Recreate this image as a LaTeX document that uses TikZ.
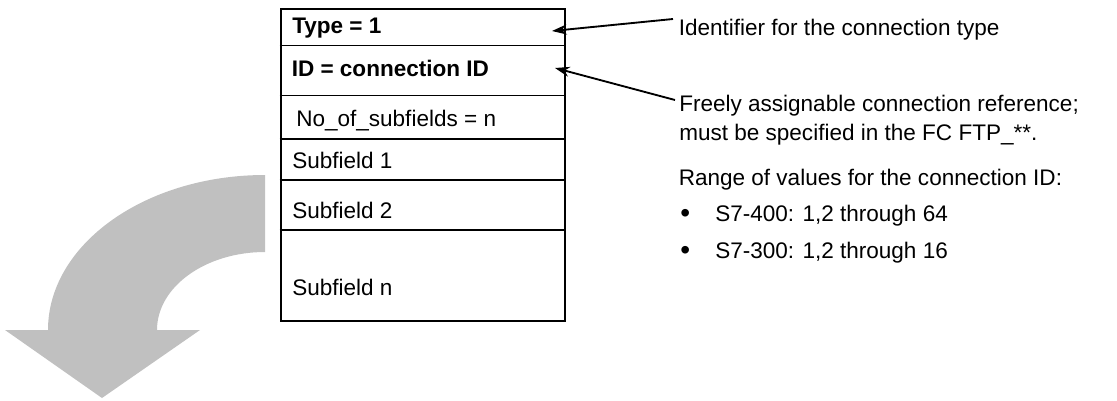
\documentclass[tikz,border=0pt]{standalone}
\usepackage{fontspec}
\setmainfont{Liberation Sans}
\usetikzlibrary{arrows.meta}
\definecolor{arrowgray}{HTML}{C0C0C0}
\begin{document}
\begin{tikzpicture}[x=0.75pt,y=0.75pt,
  txt/.style={anchor=base west,inner sep=0pt,font=\fontsize{16.9}{20}\selectfont},
  btxt/.style={anchor=base west,inner sep=0pt,font=\fontsize{16.9}{20}\selectfont\bfseries},
  bullet/.style={anchor=base west,inner sep=0pt,font=\fontsize{21}{20}\selectfont},
  callout/.style={line width=1.4pt,-{Stealth[length=11pt,width=7.5pt]}},
  divider/.style={line width=0.8pt},
  framebox/.style={draw,line width=1.5pt,minimum width=213pt,minimum height=234pt,inner sep=0pt,anchor=north west}
]
\useasboundingbox (0,0) rectangle (1117,-400);
% big gray arrow
\fill[arrowgray] (265,-175) arc[start angle=90,end angle=180,x radius=217,y radius=155]
  -- (157,-330) arc[start angle=180,end angle=90,x radius=108,y radius=78] -- cycle;
\fill[arrowgray] (5,-330) -- (200,-330) -- (102,-398) -- cycle;
% data block
\draw[divider] (279.5,-45.7) -- (563.5,-45.7);
\draw[divider] (279.5,-95.7) -- (563.5,-95.7);
\draw[divider] (279.5,-139) -- (563.5,-139);
\draw[divider] (279.5,-180) -- (563.5,-180);
\draw[divider] (279.5,-230) -- (563.5,-230);
\node[framebox] (box) at (279.5,-8) {};
\node[btxt] (type) at (292,-33.3) {Type = 1};
\node[btxt] (cid) at (291.5,-76) {ID = connection ID};
\node[txt] (nos) at (296,-126.7) {No\_of\_subfields = n};
\node[txt] (sf1) at (292,-168.3) {Subfield 1};
\node[txt] (sf2) at (292,-218.3) {Subfield 2};
\node[txt] (sfn) at (292,-295) {Subfield n};
% descriptions
\node[txt] (ident) at (678.5,-35) {Identifier for the connection type};
\node[txt] (ref1) at (679,-111.7) {Freely assignable connection reference;};
\node[txt] (ref2) at (679,-140) {must be specified in the FC FTP\_**.};
\node[txt] (range) at (678.5,-185) {Range of values for the connection ID:};
\node[bullet] (b1) at (680,-222.5) {•};
\node[txt] (s400) at (715,-221.7) {S7-400: 1,2 through 64};
\node[bullet] (b2) at (680,-259) {•};
\node[txt] (s300) at (715,-258.3) {S7-300: 1,2 through 16};
% callout arrows
\coordinate (s1) at (673,-19);
\coordinate (t1) at (552,-31);
\coordinate (s2) at (675,-100);
\coordinate (t2) at (555,-68);
\draw[callout] (s1) -- (t1);
\draw[callout] (s2) -- (t2);
\end{tikzpicture}
\end{document}
